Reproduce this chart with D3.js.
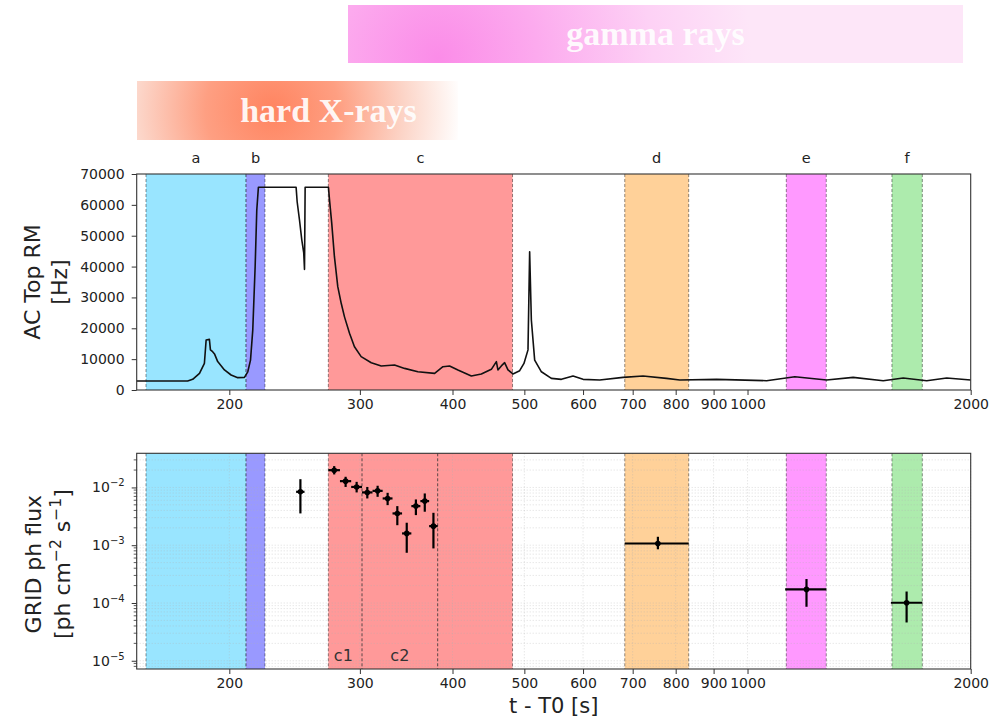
<!DOCTYPE html>
<html>
<head>
<meta charset="utf-8">
<script src="https://cdn.jsdelivr.net/npm/d3@7"></script>
<style>
  body { margin: 0; background: #fff; }
  svg { display: block; }
  text { font-family: "DejaVu Sans", sans-serif; fill: #222; }
</style>
</head>
<body>
<svg id="chart" width="998" height="722"></svg>
<script>
// ---- AC Top rate-meter light curve (time since T0 in s, rate in Hz) ----
const rateTime = [150, 175.7, 178.5, 182.3, 185.1, 186.1, 188.0, 188.6, 189.9, 191.0, 192.9, 197.0,
  201.1, 205.3, 209.6, 211.8, 213.6, 215.1, 216.7, 217.8, 218.9, 246.1, 246.9, 248.7, 250.5, 252.0,
  252.6, 253.1, 272.1, 273.0, 274.9, 277.2, 280.1, 283.1, 286.0, 290.5, 295.0, 301.2, 310.8, 320.6,
  334.1, 344.7, 359.2, 378.4, 388.3, 396.4, 406.8, 424.1, 437.5, 451.3, 458.4, 460.6, 465.5, 470.3,
  475.2, 482.6, 492.8, 499.4, 505.7, 508.3, 511.0, 516.3, 527.2, 543.8, 561.0, 581.6, 600.0, 631.9,
  679.4, 722.9, 777.5, 810.3, 908.1, 1060.9, 1158.2, 1278.2, 1388.4, 1524.2, 1621.9, 1744.5, 1856.3, 2000];
const rateHz = [2900, 2900, 3470, 5400, 8650, 16200, 16400, 13000, 12400, 11700, 9200, 6500,
  4860, 4000, 4100, 5900, 9700, 19400, 40000, 58300, 65700, 65700, 61000, 55100, 48600, 44400,
  39100, 65700, 65700, 61600, 54000, 43200, 33500, 28100, 23700, 18400, 14000, 10800, 8850, 7800,
  8100, 7000, 5900, 5400, 7550, 7800, 6500, 4540, 5200, 6700, 9200, 6500, 7800, 8850,
  6500, 5200, 6260, 8600, 13000, 44800, 22700, 9700, 5900, 3780, 3450, 4540, 3450, 3240,
  4100, 4540, 3780, 3240, 3450, 3020, 4300, 3240, 4100, 3020, 3890, 3020, 3890, 3240];

// ---- analysis intervals ----
const regionNames = ["a", "b", "c", "d", "e", "f"];
const regionStart = [154.4, 210.7, 272, 683, 1128, 1566];
const regionEnd   = [210.7, 223.4, 482, 833, 1277, 1721];
const subNames = ["c1", "c2"];
const subStart = [272, 302];
const subEnd   = [302, 382];

// ---- GRID photon flux (ph cm^-2 s^-1) ----
const fluxTime  = [249.4, 277, 287, 297, 307, 317, 327, 337, 347, 357, 367, 377, 757, 1201, 1639];
const fluxTLo   = [246.1, 272, 282, 292, 302, 312, 322, 332, 342, 352, 362, 372, 683, 1124, 1561];
const fluxTHi   = [252.6, 282, 292, 302, 312, 322, 332, 342, 352, 362, 372, 382, 833, 1277, 1721];
const flux      = [8.4e-3, 1.99e-2, 1.285e-2, 1.02e-2, 8.2e-3, 8.73e-3, 6.45e-3, 3.55e-3, 1.6e-3, 4.75e-3, 5.8e-3, 2.14e-3, 1.07e-3, 1.72e-4, 1.01e-4];
const fluxLo    = [3.55e-3, 1.68e-2, 1.02e-2, 8.2e-3, 6.45e-3, 6.88e-3, 4.94e-3, 2.22e-3, 7.4e-4, 3.32e-3, 3.8e-3, 8.8e-4, 8.5e-4, 8.6e-5, 4.6e-5];
const fluxHi    = [1.39e-2, 2.34e-2, 1.53e-2, 1.25e-2, 1.02e-2, 1.07e-2, 8.07e-3, 4.75e-3, 2.45e-3, 6.2e-3, 7.87e-3, 3.64e-3, 1.4e-3, 2.6e-4, 1.58e-4];

// ---- axis ticks ----
const timeTicks = [200, 300, 400, 500, 600, 700, 800, 900, 1000, 2000];
const rateTicks = [0, 10000, 20000, 30000, 40000, 50000, 60000, 70000];
const fluxDecades = [1e-5, 1e-4, 1e-3, 1e-2];

// ---- styling ----
const regionFill = ["#99e5ff", "#9999ff", "#ff9999", "#ffd199", "#ff99ff", "#adebad"];
const plotL = 136.7, plotR = 970.7;
const topP = { top: 174, bottom: 390 };
const botP = { top: 453.3, bottom: 669 };

const svg = d3.select("#chart");
const defs = svg.append("defs");

const x = d3.scaleLog().domain([150, 2000]).range([plotL, plotR]);
const yRate = d3.scaleLinear().domain([0, 70000]).range([topP.bottom, topP.top]);
const yFlux = d3.scaleLog().domain([7.2e-6, 3.9e-2]).range([botP.bottom, botP.top]);

// ---- energy-band banners ----
function banner(id, x0, y0, w, h, cx, cy, r, stops, label, tx, ty) {
  const g = defs.append("radialGradient").attr("id", id)
    .attr("gradientUnits", "userSpaceOnUse").attr("cx", cx).attr("cy", cy).attr("r", r);
  stops.forEach(s => g.append("stop").attr("offset", s[0]).attr("stop-color", s[1]));
  svg.append("rect").attr("x", x0).attr("y", y0).attr("width", w).attr("height", h)
    .attr("fill", `url(#${id})`);
  svg.append("text").attr("x", tx).attr("y", ty).attr("text-anchor", "middle")
    .style("font-family", "'Liberation Serif', 'DejaVu Serif', serif")
    .style("font-weight", "bold").style("font-size", "34px")
    .style("fill", "#fff").style("fill-opacity", 0.92).text(label);
}
banner("gammaGrad", 348, 5, 615, 58, 438, 58, 330,
  [[0, "#fb8ce8"], [0.3, "#fcaaee"], [0.65, "#fdd1f5"], [0.95, "#fde6f8"], [1, "#fde6f8"]],
  "gamma rays", 655.5, 45);
banner("xrayGrad", 137, 81, 321, 59, 272, 110, 190,
  [[0, "#ff8460"], [0.35, "#fe9f82"], [0.7, "#fcd5c8"], [1, "#ffffff"]],
  "hard X-rays", 328.5, 121.5);

// ---- shaded intervals in both panels ----
function shade(p) {
  regionNames.forEach((n, i) => {
    svg.append("rect")
      .attr("x", x(regionStart[i])).attr("y", p.top)
      .attr("width", x(regionEnd[i]) - x(regionStart[i])).attr("height", p.bottom - p.top)
      .attr("fill", regionFill[i]);
    [regionStart[i], regionEnd[i]].forEach(t => {
      svg.append("line").attr("x1", x(t)).attr("x2", x(t)).attr("y1", p.top).attr("y2", p.bottom)
        .attr("stroke", "#000").attr("stroke-opacity", 0.55).attr("stroke-width", 0.8)
        .attr("stroke-dasharray", "3,2");
    });
  });
}
shade(topP);
shade(botP);

// interval letters above the top panel
regionNames.forEach((n, i) => {
  svg.append("text").attr("x", x(Math.sqrt(regionStart[i] * regionEnd[i]))).attr("y", 163)
    .attr("text-anchor", "middle").style("font-size", "14.5px").text(n);
});

// ---- bottom panel grid (major + minor, dotted) ----
const gridG = svg.append("g");
const fluxMinor = [];
[1e-6, 1e-5, 1e-4, 1e-3, 1e-2].forEach(d => { for (let k = 1; k <= 9; k++) fluxMinor.push(d * k); });
fluxMinor.filter(v => v >= yFlux.domain()[0] && v <= yFlux.domain()[1]).forEach(v => {
  gridG.append("line").attr("x1", plotL).attr("x2", plotR).attr("y1", yFlux(v)).attr("y2", yFlux(v))
    .attr("stroke", "#b0b0b0").attr("stroke-opacity", 0.55).attr("stroke-width", 0.8)
    .attr("stroke-dasharray", "1,2");
});
timeTicks.forEach(t => {
  gridG.append("line").attr("x1", x(t)).attr("x2", x(t)).attr("y1", botP.top).attr("y2", botP.bottom)
    .attr("stroke", "#b0b0b0").attr("stroke-opacity", 0.55).attr("stroke-width", 0.8)
    .attr("stroke-dasharray", "1,2");
});

// sub-interval dividers inside c
[subStart[1], subEnd[1]].forEach(t => {
  svg.append("line").attr("x1", x(t)).attr("x2", x(t)).attr("y1", botP.top).attr("y2", botP.bottom)
    .attr("stroke", "#333").attr("stroke-width", 0.8).attr("stroke-dasharray", "3,2");
});
subNames.forEach((n, i) => {
  const cx = i === 0 ? x(subStart[i]) + 15 : x(Math.sqrt(subStart[i] * subEnd[i]));
  svg.append("text").attr("x", cx).attr("y", 661).attr("text-anchor", "middle")
    .style("font-size", "16px").style("fill", "#333").text(n);
});

// ---- light curve ----
const rateData = rateTime.map((t, i) => [t, rateHz[i]]);
svg.append("path").datum(rateData)
  .attr("d", d3.line().x(d => x(d[0])).y(d => yRate(d[1])))
  .attr("fill", "none").attr("stroke", "#111").attr("stroke-width", 1.6)
  .attr("stroke-linejoin", "round");

// ---- flux points with error bars ----
const fg = svg.append("g").attr("stroke", "#000").attr("stroke-width", 2.2);
fluxTime.forEach((t, i) => {
  fg.append("line").attr("x1", x(fluxTLo[i])).attr("x2", x(fluxTHi[i]))
    .attr("y1", yFlux(flux[i])).attr("y2", yFlux(flux[i]));
  fg.append("line").attr("x1", x(t)).attr("x2", x(t))
    .attr("y1", yFlux(fluxLo[i])).attr("y2", yFlux(fluxHi[i]));
  svg.append("circle").attr("cx", x(t)).attr("cy", yFlux(flux[i])).attr("r", 2.8).attr("fill", "#000");
});

// ---- axes ----
function styleAxis(g) {
  g.select("path.domain").remove();
  g.selectAll("line").attr("stroke", "#333").attr("stroke-width", 1);
  g.selectAll("text").style("font-family", "'DejaVu Sans', sans-serif").style("font-size", "14px").style("fill", "#222");
}
const fmtTime = d => String(d);

[topP, botP].forEach(p => {
  // frame
  svg.append("rect").attr("x", plotL).attr("y", p.top).attr("width", plotR - plotL)
    .attr("height", p.bottom - p.top).attr("fill", "none").attr("stroke", "#333").attr("stroke-width", 1.1);
  const gx = svg.append("g").attr("transform", `translate(0,${p.bottom})`)
    .call(d3.axisBottom(x).tickValues(timeTicks).tickFormat(fmtTime).tickSize(5).tickSizeOuter(0).tickPadding(4));
  styleAxis(gx);
});

const gyTop = svg.append("g").attr("transform", `translate(${plotL},0)`)
  .call(d3.axisLeft(yRate).tickValues(rateTicks).tickFormat(d3.format("d")).tickSize(5).tickSizeOuter(0).tickPadding(7));
styleAxis(gyTop);

// flux axis: decade labels as 10^n, minor ticks without labels
const gyBot = svg.append("g").attr("transform", `translate(${plotL},0)`)
  .call(d3.axisLeft(yFlux).tickValues(fluxDecades).tickFormat("").tickSize(5).tickSizeOuter(0));
styleAxis(gyBot);
fluxMinor.filter(v => v >= yFlux.domain()[0] && v <= yFlux.domain()[1] && !fluxDecades.includes(v))
  .forEach(v => {
    svg.append("line").attr("x1", plotL - 3).attr("x2", plotL).attr("y1", yFlux(v)).attr("y2", yFlux(v))
      .attr("stroke", "#333").attr("stroke-width", 0.8);
  });
fluxDecades.forEach(v => {
  const t = svg.append("text").attr("x", plotL - 12).attr("y", yFlux(v) + 5)
    .attr("text-anchor", "end").style("font-size", "14px");
  t.append("tspan").text("10");
  t.append("tspan").attr("dy", -6).style("font-size", "10px").text("\u2212" + Math.round(-Math.log10(v)));
});

// ---- axis titles ----
const tTop = svg.append("text").attr("transform", `translate(40,${(topP.top + topP.bottom) / 2}) rotate(-90)`)
  .attr("text-anchor", "middle").style("font-size", "22px");
tTop.append("tspan").attr("x", 0).attr("dy", 0).text("AC Top RM");
tTop.append("tspan").attr("x", 0).attr("dy", 27).text("[Hz]");

const cyBot = (botP.top + botP.bottom) / 2 + 3;
svg.append("text").attr("transform", `translate(41,${cyBot}) rotate(-90)`)
  .attr("text-anchor", "middle").style("font-size", "22px").text("GRID ph flux");
const tb = svg.append("text").attr("transform", `translate(70,${cyBot}) rotate(-90)`)
  .attr("text-anchor", "middle").style("font-size", "22px");
tb.append("tspan").text("[ph cm");
tb.append("tspan").attr("dy", -9).style("font-size", "15.5px").text("\u22122");
tb.append("tspan").attr("dy", 9).text(" s");
tb.append("tspan").attr("dy", -9).style("font-size", "15.5px").text("\u22121");
tb.append("tspan").attr("dy", 9).text("]");

svg.append("text").attr("x", (plotL + plotR) / 2).attr("y", 713).attr("text-anchor", "middle")
  .style("font-size", "21px").text("t - T0 [s]");
</script>
</body>
</html>
